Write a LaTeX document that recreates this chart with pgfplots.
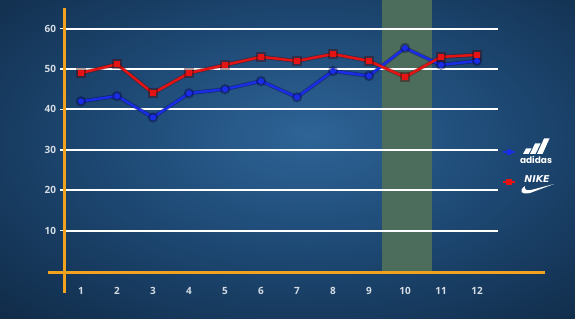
\documentclass[border=0pt]{standalone}
\usepackage{pgfplots}
\pgfplotsset{compat=1.18}
\usepackage{pgfplotstable}
\usepackage{fontspec}
\setmainfont{Open Sans}
\newfontfamily\poppins{Poppins}
\newfontfamily\dejavu{DejaVu Sans}
\definecolor{bgin}{HTML}{2E6497}
\definecolor{bgmid}{HTML}{1D4873}
\definecolor{bgout}{HTML}{0C2139}
\definecolor{axorange}{HTML}{F2A21E}
\definecolor{band}{HTML}{4C6D5C}
\definecolor{lblue}{HTML}{1A2DE6}
\definecolor{lred}{HTML}{E51414}
\definecolor{ticktext}{HTML}{D5DCE4}
\pgfdeclareradialshading{bgshade}{\pgfpoint{2bp}{4bp}}{color(0bp)=(bgin); color(18bp)=(bgmid); color(45bp)=(bgout); color(100bp)=(bgout)}
\pgfplotstableread{
x a n
1 42 49
2 43.3 51.2
3 38 44
4 44 49
5 45 51
6 47 53
7 43 52
8 49.5 53.7
9 48.3 52
10 55.2 48
11 51 53
12 52 53.5
}\data
\begin{document}
\begin{tikzpicture}
\shade[shading=bgshade] (0bp,0bp) rectangle (575bp,319bp);
\begin{axis}[
  at={(64bp,46bp)}, anchor=south west,
  scale only axis, width=481bp, height=265bp,
  xmin=0.5278, xmax=13.889, ymin=-0.5, ymax=65.1,
  clip=false,
  axis line style={draw=none},
  xtick={1,...,12}, ytick={10,20,...,60},
  ytick pos=left,
  major x tick style={draw=none},
  major y tick style={draw=white, line width=1.6bp},
  tick align=outside, major tick length=4bp,
  tick label style={font=\fontsize{10}{11}\selectfont\bfseries, text=ticktext},
  xticklabel style={yshift=-7bp},
  yticklabel style={xshift=-0.5bp},
  /pgf/number format/assume math mode=true,
  legend style={draw=none, fill=none, text=white,
    at={(axis description cs:0.9106,0.40)}, anchor=west, row sep=25bp, inner sep=0pt,
    nodes={inner sep=0pt}},
  legend image code/.code={\draw[#1, mark repeat=2, mark phase=2, line width=2bp] plot coordinates {(0bp,0bp) (6bp,0bp) (12bp,0bp)};},
]
\fill[band] (axis cs:9.36,-0.5) rectangle (axis cs:10.75,67.1);
\pgfplotsinvokeforeach{10,20,30,40,50,60}{
  \draw[white, line width=2bp] (axis cs:0.5278,#1) -- (axis cs:12.58,#1);
}
\draw[axorange, line width=3bp] (axis cs:0.5278,-5.45) -- (axis cs:0.5278,65.1);
\draw[axorange, line width=3bp] (axis cs:0.083,-0.5) -- (axis cs:13.889,-0.5);
\addplot[forget plot, black!70!blue, opacity=0.4, line width=4bp, mark=*, mark size=3bp] table[x=x,y=a]{\data};
\addplot[forget plot, black!70!red, opacity=0.4, line width=4bp, mark=square*, mark size=3bp] table[x=x,y=n]{\data};
\addplot[lblue, line width=2.5bp, mark=*, mark size=2.2bp, mark options={fill=lblue, line width=1.5bp}] table[x=x,y=a]{\data};
\addplot[lred, line width=2.5bp, mark=square*, mark size=2.4bp, mark options={fill=lred, line width=1.5bp}] table[x=x,y=n]{\data};
\addlegendentry{\mbox{}}
\addlegendentry{\mbox{}}
\end{axis}
% adidas logo (decorative)
\fill[white] (523bp,165bp) -- (528.5bp,165bp) -- (531.5bp,170.5bp) -- (526bp,170.5bp) -- cycle;
\fill[white] (530bp,165bp) -- (535.5bp,165bp) -- (540.5bp,175.5bp) -- (535bp,175.5bp) -- cycle;
\fill[white] (537bp,165bp) -- (542.5bp,165bp) -- (549.5bp,180.5bp) -- (544bp,180.5bp) -- cycle;
\node[text=white, font={\poppins\bfseries\fontsize{9}{10}\selectfont}, inner sep=0pt] at (536bp,159bp) {adidas};
% nike logo (decorative)
\node[text=white, font={\dejavu\bfseries\itshape\fontsize{9.5}{10}\selectfont}, inner sep=0pt] at (537bp,140bp) {NIKE};
\fill[white] (525bp,133bp) .. controls (518bp,128bp) and (521bp,124bp) .. (530bp,126bp) -- (554bp,135bp) -- (531bp,129bp) .. controls (526bp,128bp) and (524bp,130bp) .. cycle;
\pgfresetboundingbox
\path[use as bounding box] (0bp,0bp) rectangle (575bp,319bp);
\end{tikzpicture}
\end{document}
